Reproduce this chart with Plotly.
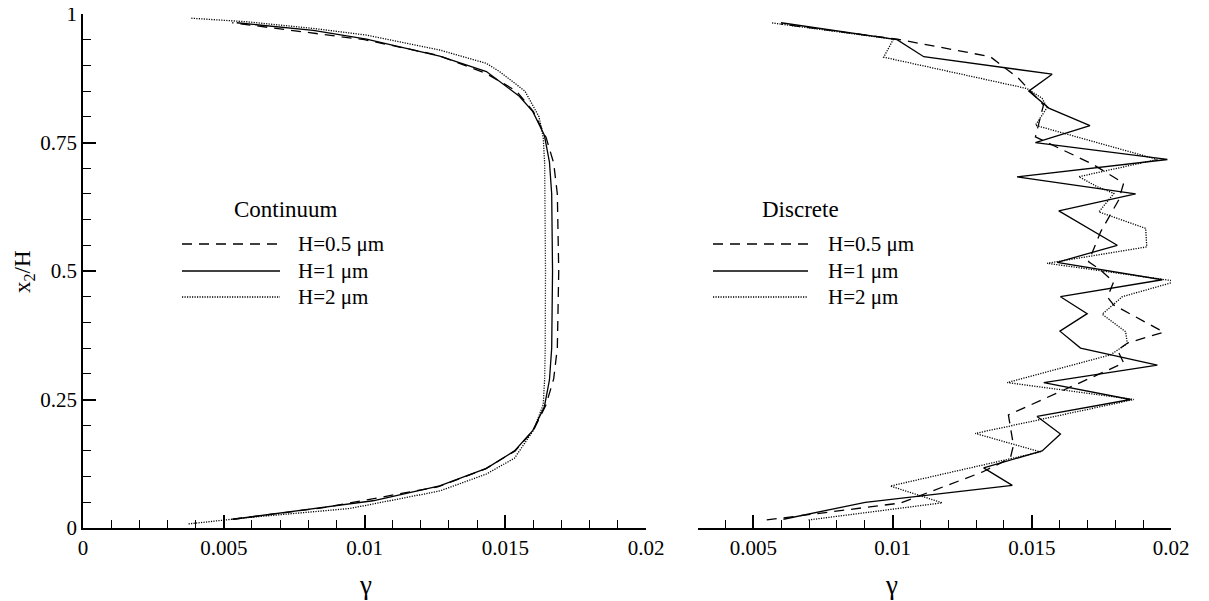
import plotly.graph_objects as go

# ---------------- data ----------------
# Continuum model (left panel): x2/H vs gamma
cont_h05_y = [0.017, 0.04, 0.08, 0.115, 0.15, 0.19, 0.24, 0.29, 0.35, 0.5, 0.65, 0.71, 0.76, 0.81, 0.85, 0.885, 0.92, 0.95, 0.983]
cont_h05_g = [0.0053, 0.0086, 0.0126, 0.0143, 0.01535, 0.0160, 0.01645, 0.01672, 0.01685, 0.0169, 0.01685, 0.01672, 0.01645, 0.0160, 0.0154, 0.0143, 0.0126, 0.0100, 0.0053]

cont_h1_y = [0.017, 0.03, 0.041, 0.053, 0.082, 0.116, 0.150, 0.190, 0.236, 0.288, 0.35, 0.5, 0.65, 0.712, 0.764, 0.81, 0.84, 0.868, 0.888, 0.918, 0.951, 0.968, 0.983]
cont_h1_g = [0.00534, 0.0072, 0.00877, 0.0103, 0.01267, 0.01433, 0.01533, 0.01598, 0.01639, 0.01657, 0.01665, 0.01668, 0.01665, 0.01657, 0.01639, 0.01598, 0.0155, 0.0148, 0.01433, 0.01267, 0.01007, 0.00818, 0.00546]

cont_h2_y = [0.008, 0.02, 0.038, 0.072, 0.105, 0.136, 0.19, 0.24, 0.29, 0.35, 0.5, 0.65, 0.71, 0.76, 0.80, 0.85, 0.888, 0.904, 0.93, 0.959, 0.972, 0.985, 0.992]
cont_h2_g = [0.00375, 0.0058, 0.00948, 0.01267, 0.01433, 0.01533, 0.0160, 0.01635, 0.0164, 0.01642, 0.01643, 0.01642, 0.0164, 0.01635, 0.0162, 0.0157, 0.0148, 0.01433, 0.01267, 0.01007, 0.00818, 0.0058, 0.00381]

# Discrete model (right panel)
disc_h05_y = [0.0156, 0.0486, 0.109, 0.136, 0.161, 0.22, 0.321, 0.346, 0.360, 0.381, 0.434, 0.449, 0.479, 0.502, 0.518, 0.576, 0.638, 0.671, 0.708, 0.761, 0.823, 0.875, 0.917, 0.951, 0.9805]
disc_h05_g = [0.00548, 0.01028, 0.01323, 0.01423, 0.01434, 0.01416, 0.0183, 0.01808, 0.01844, 0.01974, 0.01794, 0.01772, 0.01794, 0.01747, 0.01704, 0.01747, 0.01812, 0.0183, 0.01718, 0.01513, 0.01542, 0.01452, 0.01351, 0.01017, 0.00599]

disc_h1_y = [0.017, 0.050, 0.083, 0.117, 0.150, 0.183, 0.217, 0.250, 0.283, 0.317, 0.350, 0.383, 0.417, 0.450, 0.483, 0.517, 0.550, 0.617, 0.650, 0.683, 0.717, 0.750, 0.783, 0.817, 0.850, 0.883, 0.917, 0.950, 0.983]
disc_h1_g = [0.00608, 0.00902, 0.0143, 0.01327, 0.01537, 0.01603, 0.01519, 0.01855, 0.01543, 0.01951, 0.01675, 0.01601, 0.01699, 0.01603, 0.01969, 0.01591, 0.01807, 0.01597, 0.01873, 0.01447, 0.01987, 0.01513, 0.01709, 0.01561, 0.01489, 0.01573, 0.01112, 0.01016, 0.00599]

disc_h2_y = [0.0156, 0.049, 0.0817, 0.148, 0.184, 0.25, 0.283, 0.337, 0.359, 0.382, 0.416, 0.45, 0.48, 0.515, 0.547, 0.583, 0.615, 0.651, 0.664, 0.6835, 0.717, 0.7835, 0.818, 0.836, 0.855, 0.916, 0.951, 0.983]
disc_h2_g = [0.00698, 0.01178, 0.00992, 0.01531, 0.01297, 0.01867, 0.01412, 0.01783, 0.01843, 0.01837, 0.01753, 0.01825, 0.0202, 0.01555, 0.01913, 0.01909, 0.01741, 0.01795, 0.01735, 0.01669, 0.01951, 0.01513, 0.01555, 0.01537, 0.01483, 0.00968, 0.01003, 0.00563]

# ticks / labels
left_xticks = [0, 0.005, 0.01, 0.015, 0.02]
left_xlabels = ["0", "0.005", "0.01", "0.015", "0.02"]
right_xticks = [0.005, 0.01, 0.015, 0.02]
right_xlabels = ["0.005", "0.01", "0.015", "0.02"]
yticks = [0, 0.25, 0.5, 0.75, 1]
ylabels = ["0", "0.25", "0.5", "0.75", "1"]
legend_labels = ["H=0.5 \u03bcm", "H=1 \u03bcm", "H=2 \u03bcm"]

# ---------------- styling ----------------
# the page body has an 8px margin, so figure pixels = screen pixels - 8
OFF = 8
W, H = 1209, 601
ML, MT = 83 - OFF, 14 - OFF
PW, PH = 1088, 514
MR = W - ML - PW
MB = H - MT - PH
FONT = "Liberation Serif, Times New Roman, Tinos, DejaVu Serif, serif"
DASH = "10px,7px"
DOT = "1.2px,1.3px"
LW = 1.3
styles = [dict(color="black", width=LW, dash=DASH),
          dict(color="black", width=LW, dash="solid"),
          dict(color="black", width=LW, dash=DOT)]


def px2x(px):
    return (px - OFF - ML) / PW


def py2y(py):
    return (MT + PH - (py - OFF)) / PH


fig = go.Figure()
for (xs, ys), st, name in zip([(cont_h05_g, cont_h05_y), (cont_h1_g, cont_h1_y), (cont_h2_g, cont_h2_y)], styles, legend_labels):
    fig.add_trace(go.Scatter(x=xs, y=ys, mode="lines", line=st, name=name, showlegend=False, xaxis="x", yaxis="y"))
for (xs, ys), st, name in zip([(disc_h05_g, disc_h05_y), (disc_h1_g, disc_h1_y), (disc_h2_g, disc_h2_y)], styles, legend_labels):
    fig.add_trace(go.Scatter(x=xs, y=ys, mode="lines", line=st, name=name, showlegend=False, xaxis="x2", yaxis="y2"))

tickfont = dict(family=FONT, size=21, color="black")
axis_common = dict(showline=True, linecolor="black", linewidth=1.6, ticks="inside",
                   ticklen=13, tickwidth=1.5, tickcolor="black", showgrid=False,
                   zeroline=False, tickfont=tickfont, automargin=False,
                   ticklabeloverflow="allow")
minor_x = dict(dtick=0.001, tick0=0, ticks="inside", ticklen=8, tickwidth=1.3, tickcolor="black", showgrid=False)

left_dom_end = (646 - 83) / PW
right_dom_start = (697.7 - 83) / PW

fig.update_layout(
    width=W, height=H,
    margin=dict(l=ML, r=MR, t=MT, b=MB, pad=0, autoexpand=False),
    paper_bgcolor="white", plot_bgcolor="white",
    showlegend=False,
    xaxis=dict(domain=[0, left_dom_end], range=[0, 0.02], anchor="y",
               tickvals=left_xticks, ticktext=left_xlabels, minor=minor_x, **axis_common),
    yaxis=dict(domain=[0, 1], range=[0, 1.00005], anchor="x",
               tickvals=yticks, ticktext=ylabels,
               minor=dict(dtick=0.05, tick0=0, ticks="inside", ticklen=8, tickwidth=1.3, tickcolor="black", showgrid=False),
               **axis_common),
    xaxis2=dict(domain=[right_dom_start, 1], range=[0.003, 0.02], anchor="y2",
                tickvals=right_xticks, ticktext=right_xlabels, minor=minor_x, **axis_common),
    yaxis2=dict(domain=[0, 1], range=[0, 1.00005], anchor="x2", visible=False),
)

annotations = []
# axis titles
for gx in (365, 891):
    annotations.append(dict(text="\u03b3", x=px2x(gx), y=py2y(585), xref="paper", yref="paper",
                            showarrow=False, font=dict(family=FONT, size=27, color="black"),
                            xanchor="center", yanchor="middle"))
annotations.append(dict(text="x<sub>2</sub>/H", x=px2x(24), y=py2y(272), xref="paper", yref="paper", textangle=-90,
                        showarrow=False, font=dict(family=FONT, size=23, color="black"), xanchor="center", yanchor="middle"))

shapes = []
legend_sets = [
    ("Continuum", 286, 182, 280, 296),
    ("Discrete", 800, 713, 808, 826),
]
row_y = [244, 271, 297]
for title, tcx, lx0, lx1, tx in legend_sets:
    annotations.append(dict(text=title, x=px2x(tcx), y=py2y(209), xref="paper", yref="paper",
                            showarrow=False, font=dict(family=FONT, size=23, color="black"),
                            xanchor="center", yanchor="middle"))
    for ry, st, lab in zip(row_y, styles, legend_labels):
        shapes.append(dict(type="line", xref="paper", yref="paper", x0=px2x(lx0), x1=px2x(lx1),
                           y0=py2y(ry), y1=py2y(ry), line=st))
        annotations.append(dict(text=lab, x=px2x(tx), y=py2y(ry), xref="paper", yref="paper",
                                showarrow=False, font=dict(family=FONT, size=21, color="black"),
                                xanchor="left", yanchor="middle"))

fig.update_layout(annotations=annotations, shapes=shapes)
fig.write_html("out.html")
